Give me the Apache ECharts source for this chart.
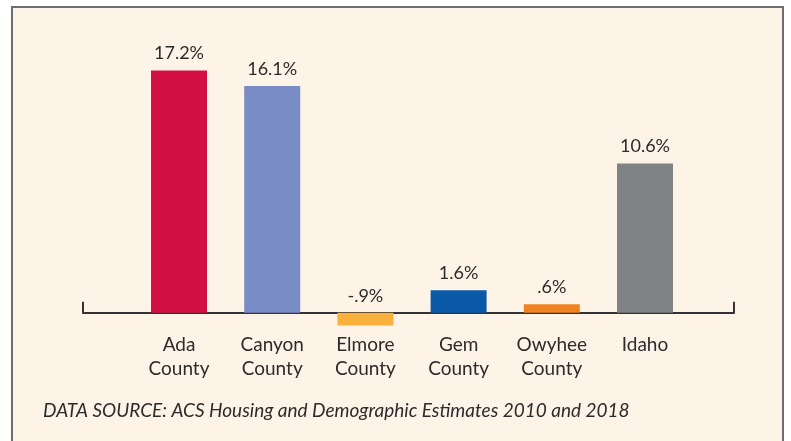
<!DOCTYPE html>
<html>
<head>
<meta charset="utf-8">
<script src="https://cdn.jsdelivr.net/npm/echarts@6/dist/echarts.min.js"></script>
<style>
  html, body { margin: 0; padding: 0; background: #ffffff; }
  .frame {
    position: absolute; left: 11px; top: 6px; width: 773px; height: 460px;
    background: #fdf4e7; border: 2px solid #6e6e6e; box-sizing: border-box;
  }
  #chart { position: absolute; left: 0; top: 0; width: 791px; height: 441px; }
</style>
</head>
<body>
<div class="frame"></div>
<div id="chart"></div>
<script>
// 数据
const categories = ['Ada\nCounty', 'Canyon\nCounty', 'Elmore\nCounty', 'Gem\nCounty', 'Owyhee\nCounty', 'Idaho']
const values = [17.2, 16.1, -0.9, 1.6, 0.6, 10.6]
const barColors = ['#d21044', '#7a8cc6', '#f9b03d', '#0a5aa8', '#f08222', '#818285']
const sourceNote = 'DATA SOURCE: ACS Housing and Demographic Estimates 2010 and 2018'

const FONT = 'Lato, "Noto Sans", sans-serif'

const chart = echarts.init(document.getElementById('chart'), null, { renderer: 'canvas' })

// 去掉前导 0，例如 -0.9 -> -.9
function fmtPct(v) {
  return String(v).replace(/^(-?)0\./, '$1.') + '%'
}

const yRange = { min: -2, max: 20 }

const option = {
  animation: false,
  backgroundColor: 'transparent',
  grid: [
    { left: 132.4, width: 559.2, top: 31, height: 310 },
    { left: 83, width: 651, top: 31, height: 310 }
  ],
  xAxis: [
    {
      type: 'category',
      gridIndex: 0,
      data: categories,
      axisLine: { show: false, onZero: true },
      axisTick: { show: false },
      axisLabel: {
        color: '#2b2b2b',
        fontFamily: FONT,
        fontSize: 19,
        lineHeight: 24,
        margin: -8,
        interval: 0
      },
      splitLine: { show: false }
    },
    {
      // 底部长轴线及两端刻度
      type: 'value',
      gridIndex: 1,
      min: 0,
      max: 1,
      interval: 1,
      axisLine: { show: true, onZero: true, lineStyle: { color: '#333333', width: 2 } },
      axisTick: { show: true, inside: true, length: 11, lineStyle: { color: '#333333', width: 2 } },
      axisLabel: { show: false },
      splitLine: { show: false }
    }
  ],
  yAxis: [
    { type: 'value', gridIndex: 0, min: yRange.min, max: yRange.max, show: false },
    { type: 'value', gridIndex: 1, min: yRange.min, max: yRange.max, show: false }
  ],
  series: [
    {
      type: 'bar',
      xAxisIndex: 0,
      yAxisIndex: 0,
      barWidth: 56,
      data: values.map((v, i) => ({ value: v, itemStyle: { color: barColors[i] } })),
      label: {
        show: true,
        position: 'top',
        distance: 8,
        color: '#2b2b2b',
        fontFamily: FONT,
        fontSize: 18,
        formatter: p => fmtPct(p.value)
      }
    }
  ],
  graphic: [
    {
      type: 'text',
      left: 43,
      top: 401,
      style: {
        text: sourceNote,
        fill: '#2b2b2b',
        font: 'italic 19px ' + FONT
      }
    }
  ]
}

chart.setOption(option)
</script>
</body>
</html>
